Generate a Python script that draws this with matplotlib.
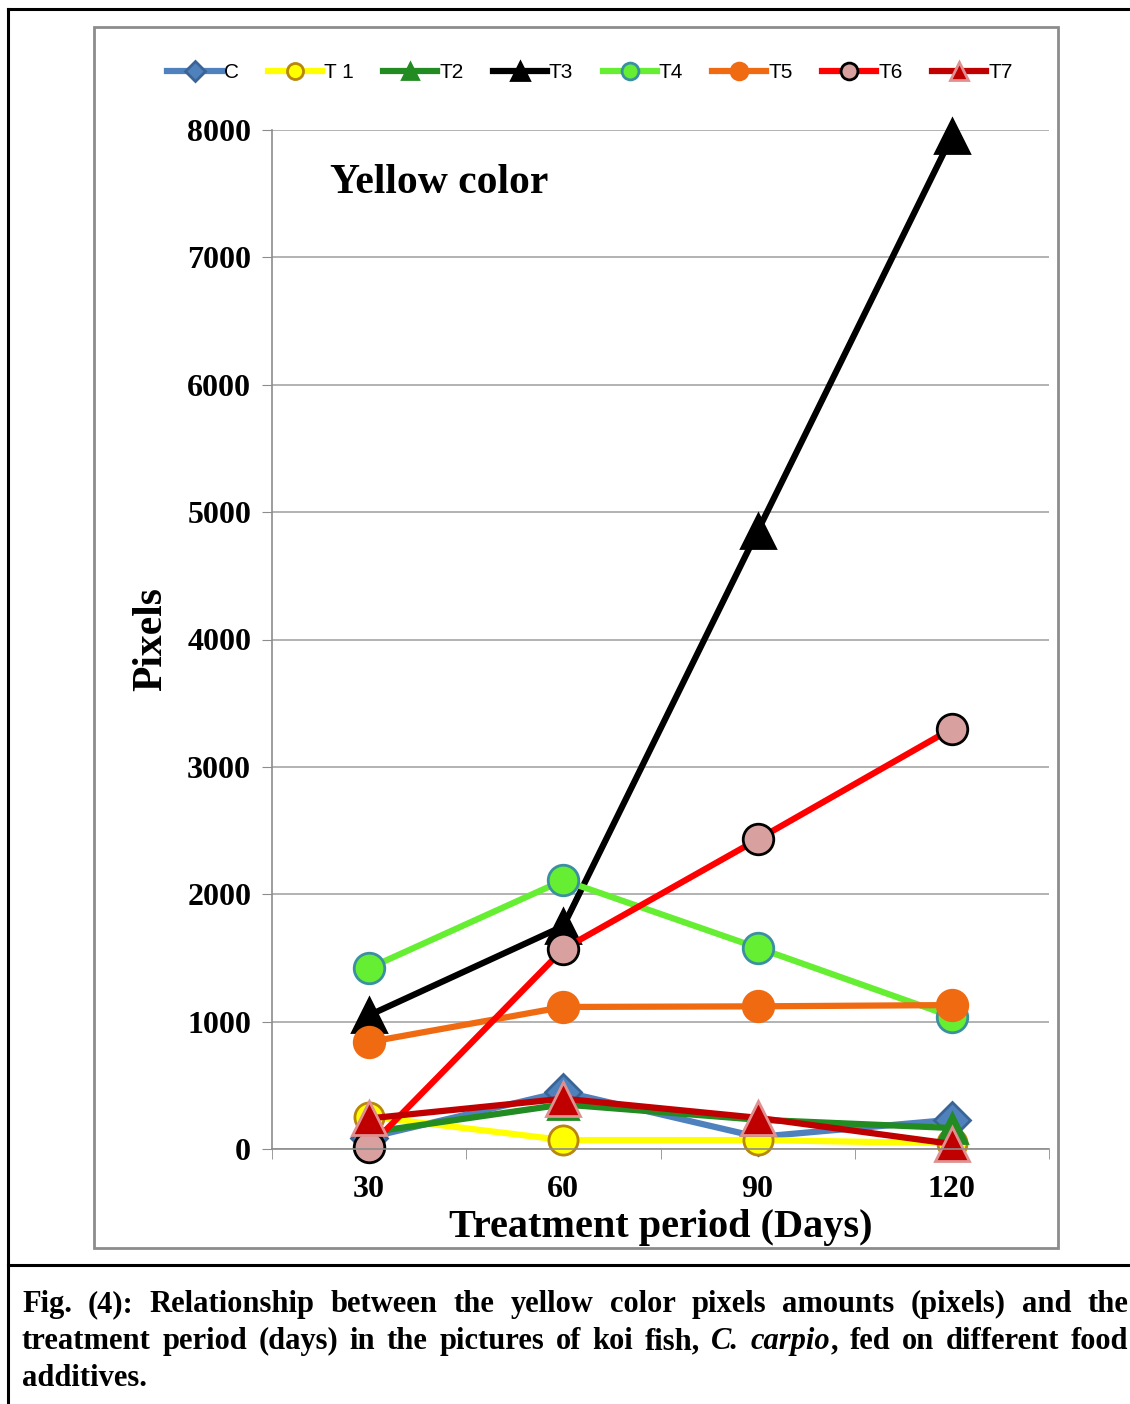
import matplotlib
matplotlib.use("Agg")
import matplotlib.pyplot as plt
from matplotlib.lines import Line2D
from matplotlib.patches import Rectangle

# treatment period (days) and yellow pixel amounts per treatment
days = ["30", "60", "90", "120"]
C = [90, 450, 95, 230]
T1 = [255, 70, 70, 45]
T2 = [130, 350, 230, 165]
T3 = [1050, 1750, 4850, 7950]
T4 = [1420, 2110, 1580, 1040]
T5 = [840, 1115, 1120, 1130]
T6 = [15, 1570, 2430, 3300]
T7 = [240, 395, 245, 40]
yticks = [0, 1000, 2000, 3000, 4000, 5000, 6000, 7000, 8000]

W, H = 1130, 1404
SERIF = "Liberation Serif"


def fx(px):
    return px / W


def fy(py):
    return 1 - py / H


fig = plt.figure(figsize=(W / 100, H / 100), dpi=100)

# outer page frame lines
for xs, ys in [((8, 1130), (9, 9)), ((8, 8), (9, 1404)), ((8, 1130), (1265, 1265))]:
    fig.add_artist(Line2D([fx(x) for x in xs], [fy(y) for y in ys],
                          color="black", lw=2.2, transform=fig.transFigure))

# grey chart frame
fig.add_artist(Rectangle((fx(94), fy(1248)), fx(1058) - fx(94), fy(27) - fy(1248),
                         fill=False, ec="#8C8C8C", lw=2, transform=fig.transFigure))

ax = fig.add_axes([fx(272), fy(1149), fx(1049) - fx(272), fy(130) - fy(1149)])

series = [
    ("C", C, "#4F81BD", "D", 18, "#3A6496", "#4F81BD"),
    ("T 1", T1, "#FFFF00", "o", 21, "#B8860B", "#FFFF00"),
    ("T2", T2, "#228B22", "^", 22, "#228B22", "#228B22"),
    ("T3", T3, "black", "^", 24, "black", "black"),
    ("T4", T4, "#66EE33", "o", 22, "#3A8FA0", "#66EE33"),
    ("T5", T5, "#F06A12", "o", 22, "#F06A12", "#F06A12"),
    ("T6", T6, "#FF0000", "o", 22, "black", "#D9A0A0"),
    ("T7", T7, "#C00000", "^", 24, "#E09090", "#C00000"),
]

x = range(len(days))
for name, vals, col, mk, ms, mec, mfc in series:
    ax.plot(x, vals, color=col, lw=4.5, marker=mk, ms=ms, mec=mec, mfc=mfc,
            mew=2, label=name, clip_on=False)

ax.set_xlim(-0.5, 3.5)
ax.set_ylim(0, 8000)
ax.set_yticks(yticks)
ax.set_yticklabels([str(v) for v in yticks], fontsize=23, fontweight="bold", family=SERIF)
ax.set_xticks(list(x))
ax.set_xticklabels(days, fontsize=23, fontweight="bold", family=SERIF)
ax.set_xticks([-0.5, 0.5, 1.5, 2.5, 3.5], minor=True)
ax.tick_params(axis="x", which="major", length=0, pad=19)
ax.tick_params(axis="x", which="minor", length=7, color="#8C8C8C", direction="out")
ax.tick_params(axis="y", length=7, color="#8C8C8C", direction="out", pad=8)
ax.grid(axis="y", color="#A6A6A6", lw=1.2)
ax.set_axisbelow(True)
for s in ["top", "right"]:
    ax.spines[s].set_visible(False)
for s in ["left", "bottom"]:
    ax.spines[s].set_color("#8C8C8C")
    ax.spines[s].set_linewidth(1.2)

ax.set_ylabel("Pixels", fontsize=30, fontweight="bold", family=SERIF, labelpad=12)
ax.set_xlabel("Treatment period (Days)", fontsize=29, fontweight="bold", family=SERIF, labelpad=3)
ax.text(fx(330), fy(183), "Yellow color", transform=fig.transFigure, fontsize=30,
        fontweight="bold", family=SERIF, va="center", ha="left")

leg = fig.legend(loc="center", bbox_to_anchor=(fx(590), fy(73)), ncol=8, frameon=False,
                 handlelength=2.6, handletextpad=0.1, columnspacing=1.4, markerscale=0.55,
                 prop={"family": "Liberation Sans", "size": 15})

# justified caption below the chart
fig.canvas.draw()
r = fig.canvas.get_renderer()
line1 = [[(w, "normal")] for w in
         "Fig. (4): Relationship between the yellow color pixels amounts (pixels) and the".split()]
line2 = [[(w, "normal")] for w in "treatment period (days) in the pictures of koi fish,".split()]
line2 += [[("C.", "italic")], [("carpio", "italic"), (",", "normal")]]
line2 += [[(w, "normal")] for w in "fed on different food".split()]
line3 = [[("additives.", "normal")]]
cap_lines = [(line1, 1312, True), (line2, 1349, True), (line3, 1386, False)]
x0, x1 = 22, 1128


def seg_width(s, st, size):
    t = fig.text(0, 0, s, fontsize=size, fontweight="bold", style=st, family=SERIF)
    w = t.get_window_extent(r).width
    t.remove()
    return w


size = 22.0
while True:
    sp = seg_width("a a", "normal", size) - seg_width("aa", "normal", size)
    widest = max(sum(seg_width(s, st, size) for wd in ln for s, st in wd) + sp * (len(ln) - 1)
                 for ln, _, _ in cap_lines)
    if widest <= (x1 - x0) * 0.99:
        break
    size -= 0.25

for ln, base, justify in cap_lines:
    widths = [[seg_width(s, st, size) for s, st in wd] for wd in ln]
    total = sum(sum(w) for w in widths)
    gap = (x1 - x0 - total) / (len(ln) - 1) if justify and len(ln) > 1 else sp
    xp = x0
    for wd, ws in zip(ln, widths):
        for (s, st), w in zip(wd, ws):
            fig.text(fx(xp), fy(base), s, fontsize=size, fontweight="bold", style=st,
                     family=SERIF, va="baseline", ha="left")
            xp += w
        xp += gap

fig.savefig("out.png", dpi=100)
